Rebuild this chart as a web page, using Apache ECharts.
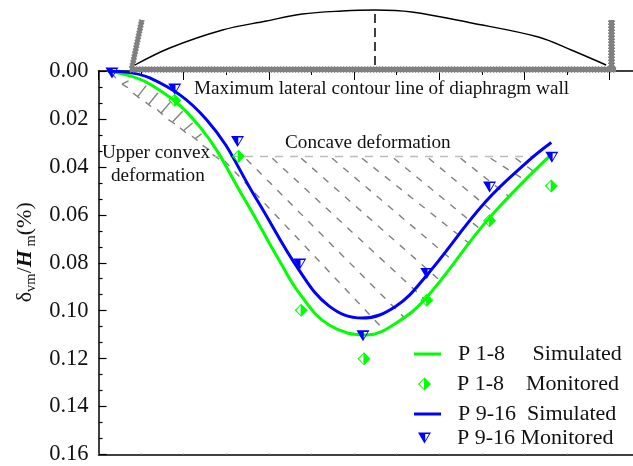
<!DOCTYPE html>
<html>
<head>
<meta charset="utf-8">
<style>html,body{margin:0;padding:0;background:#fff}#c{width:633px;height:466px}</style>
<script src="https://cdn.jsdelivr.net/npm/echarts@6/dist/echarts.min.js"></script>
</head>
<body>
<div id="c"></div>
<script>
const p18SimX = [0.111,0.602,1.187,1.713,2.123,2.357,2.708,3.152,3.491,3.842,4.579,5.316];
const p18SimY = [0,0.0054,0.0232,0.0534,0.0791,0.0927,0.1060,0.1101,0.1052,0.0948,0.0617,0.0348];
const p916SimX = [0.111,0.602,1.269,1.854,2.357,2.708,3.094,3.491,3.842,4.544,5.070,5.316];
const p916SimY = [0,0.0029,0.0203,0.0534,0.0832,0.0981,0.1031,0.0981,0.0857,0.0546,0.0368,0.0298];
const p18MonX = [0.895,1.643,2.380,3.117,3.854,4.591,5.316];
const p18MonY = [0.0122,0.0356,0.0998,0.1201,0.0956,0.0625,0.0480];
const p916MonX = [0.158,0.895,1.632,2.363,3.105,3.854,4.591,5.322];
const p916MonY = [0.0008,0.0075,0.0294,0.0805,0.1105,0.0845,0.0484,0.0360];
const yTickLabels = ['0.00','0.02','0.04','0.06','0.08','0.10','0.12','0.14','0.16'];

const concaveLevel = [[1.368,0.0356],[5.111,0.0356]];
const concaveHatch = [
 [1.480,0.0375,3.351,0.1080],[1.737,0.0368,3.585,0.1027],[2.041,0.0364,3.854,0.0960],
 [2.380,0.0364,4.006,0.0873],[2.743,0.0364,4.193,0.0801],[3.094,0.0364,4.368,0.0724],
 [3.468,0.0364,4.520,0.0671],[3.877,0.0364,4.661,0.0596],[4.251,0.0364,4.813,0.0522],
 [4.602,0.0364,4.988,0.0451],[4.895,0.0364,5.105,0.0418]];
const convexDashes = [
 [0.146,0.0008,0.205,0.0029],[0.275,0.0055,0.345,0.0069],[0.404,0.0092,0.482,0.0113],
 [0.552,0.0130,0.618,0.0148],[0.688,0.0161,0.754,0.0182],[0.821,0.0203,0.898,0.0221],
 [0.957,0.0237,1.027,0.0258],[1.097,0.0272,1.164,0.0290],[1.222,0.0310,1.292,0.0327],
 [1.339,0.0348,1.418,0.0368]];
const convexTicks = [
 [0.275,0.0055,0.353,0.0041],[0.462,0.0106,0.559,0.0061],[0.591,0.0138,0.696,0.0092],
 [0.735,0.0175,0.844,0.0130],[0.871,0.0212,0.988,0.0168],[1.000,0.0248,1.105,0.0217],
 [1.137,0.0282,1.211,0.0262]];

const contourX = [0.427,0.836,1.456,1.971,2.392,2.860,3.246,3.678,4.380,5.164,5.550,5.959];
const contourH = [6,23,41,50,57,60,61,59,48,34,21,6];
const wallLeft = [[0.392,3],[0.509,51]];
const wallBase = [[0.368,1.5],[6.076,1.5]];
const wallRight = [[6.023,1],[6.023,51]];
const centreLine = [[3.246,6],[3.246,61]];

const GREEN = '#00FF00', BLUE = '#0000FF', GREY = '#808080', SERIF = 'Liberation Serif';
const DIAMOND = 'path://M0 -10L10 0L0 10L-10 0ZM-1 -7.4L-7.4 0L-1 7.4Z';
const TRIANGLE = 'path://M-10 -8L10 -8L0 9ZM1.2 -5.6L1.2 4.3L7 -5.6Z';

const zip = (a, b) => a.map((v, i) => [v, b[i]]);
const segs = rows => rows.map(r => ({coords: [[r[0], r[1]], [r[2], r[3]]]}));
const hatch = (data, color, type, name) => ({
  type: 'lines', coordinateSystem: 'cartesian2d', xAxisIndex: 0, yAxisIndex: 0, name, z: 2, silent: true,
  lineStyle: {color, width: 1.4, type, opacity: 1}, data: segs(data), polyline: false, symbol: 'none', effect: {show: false}
});
const schematic = (data, name, style, extra) => Object.assign({
  type: 'line', name, xAxisIndex: 2, yAxisIndex: 1, data, symbol: 'none', silent: true, z: 3, clip: false, lineStyle: style
}, extra || {});
const legendRow = (name, icon, left, top, w, h, pad) => ({
  data: [{name, icon}], left, top, padding: 0, itemWidth: w, itemHeight: h, selectedMode: false,
  textStyle: {fontFamily: SERIF, fontSize: 22, color: '#111', padding: [0, 0, 0, pad]}
});
const note = (text, x, y) => ({type: 'text', x, y, z: 50, silent: true,
  style: {text, fontFamily: SERIF, fontSize: 19.2, fill: '#111', textAlign: 'left', textVerticalAlign: 'middle'}});

const chart = echarts.init(document.getElementById('c'), null, {renderer: 'canvas'});
chart.setOption({
  animation: false,
  backgroundColor: '#fff',
  grid: [
    {left: 98.5, right: -2, top: 71, bottom: 8.5},
    {left: 98.5, right: -2, top: 0, height: 71}
  ],
  xAxis: [
    {type: 'value', gridIndex: 0, position: 'top', min: 0, max: 6.275, interval: 1, splitLine: {show: false},
     axisLabel: {show: false}, axisLine: {onZero: false, lineStyle: {color: '#000', width: 1.5}},
     axisTick: {inside: true, length: 9, lineStyle: {color: '#000', width: 1}},
     minorTick: {show: true, splitNumber: 2, length: 4, lineStyle: {color: '#000', width: 1}}},
    {type: 'value', gridIndex: 0, position: 'bottom', min: 0, max: 6.275, interval: 1, splitLine: {show: false},
     axisLabel: {show: false}, axisLine: {onZero: false, lineStyle: {color: '#000', width: 1.5}},
     axisTick: {inside: true, length: 1, lineStyle: {color: '#999', width: 1}},
     minorTick: {show: true, splitNumber: 2, length: 1, lineStyle: {color: '#999', width: 1}}},
    {type: 'value', gridIndex: 1, min: 0, max: 6.275, show: false}
  ],
  yAxis: [
    {type: 'value', gridIndex: 0, inverse: true, min: 0, max: 0.16, interval: 0.02, splitLine: {show: false},
     axisLine: {onZero: false, lineStyle: {color: '#000', width: 1.5}},
     axisTick: {inside: true, length: 8, lineStyle: {color: '#000', width: 1.2}},
     minorTick: {show: true, splitNumber: 3, length: 4, lineStyle: {color: '#000', width: 1.2}},
     axisLabel: {margin: 10, fontFamily: SERIF, fontSize: 22.5, color: '#111', formatter: (v) => yTickLabels[Math.round(v / 0.02)]},
     name: '{t|δ}{s|vm}{t|/}{h|H}{s| m}{t|(%)}', nameLocation: 'middle', nameRotate: 90, nameGap: 60,
     nameTextStyle: {padding: [0, 0, 0, 21], rich: {
       t: {fontFamily: SERIF, fontSize: 22, color: '#111', lineHeight: 26},
       h: {fontFamily: SERIF, fontSize: 22, fontStyle: 'italic', fontWeight: 'bold', color: '#111', lineHeight: 26},
       s: {fontFamily: SERIF, fontSize: 14.5, color: '#111', lineHeight: 26, verticalAlign: 'bottom'}
     }}},
    {type: 'value', gridIndex: 1, min: 0, max: 71, show: false}
  ],
  legend: [
    legendRow('P 1-8     Simulated', 'rect', 414, 343, 27, 3, 12),
    legendRow('P 1-8    Monitored', DIAMOND, 418, 373, 13, 13, 21),
    legendRow('P 9-16  Simulated', 'rect', 414, 403, 27, 3, 12),
    legendRow('P 9-16 Monitored', TRIANGLE, 418, 427, 13, 11, 21)
  ],
  graphic: [
    note('Maximum lateral contour line of diaphragm wall', 194, 89),
    note('Concave deformation', 285, 143),
    note('Upper convex', 102, 153),
    note('deformation', 111, 176)
  ],
  series: [
    hatch(concaveHatch, GREY, [7, 7.6], 'concave hatch'),
    hatch(convexDashes, GREY, 'solid', 'convex boundary'),
    hatch(convexTicks, GREY, 'solid', 'convex ticks'),
    hatch([[concaveLevel[0][0], concaveLevel[0][1], concaveLevel[1][0], concaveLevel[1][1]]], '#BDBDBD', [8, 7], 'concave level'),
    schematic(wallBase, 'wall base', {color: GREY, width: 6.5, type: [1.5, 1.5]}, {z: 20}),
    schematic(wallBase, 'wall base core', {color: GREY, width: 5}, {z: 20}),
    schematic(wallLeft, 'left wall', {color: GREY, width: 6, type: [1.5, 1.5]}, {z: 20}),
    schematic(wallLeft, 'left wall core', {color: GREY, width: 4.5}, {z: 20}),
    schematic(wallRight, 'right wall', {color: GREY, width: 7, type: [1.5, 1.5]}, {z: 20}),
    schematic(wallRight, 'right wall core', {color: GREY, width: 5}, {z: 20}),
    schematic(zip(contourX, contourH), 'contour', {color: '#000', width: 1.4}, {smooth: 0.35, z: 21}),
    schematic(centreLine, 'centre', {color: '#000', width: 1.5, type: [9, 5]}, {z: 21}),
    {type: 'line', name: 'P 1-8     Simulated', xAxisIndex: 0, yAxisIndex: 0, data: zip(p18SimX, p18SimY), smooth: 0.4, symbol: 'none', z: 5,
     lineStyle: {color: GREEN, width: 3}, itemStyle: {color: GREEN}},
    {type: 'line', name: 'P 9-16  Simulated', xAxisIndex: 0, yAxisIndex: 0, data: zip(p916SimX, p916SimY), smooth: 0.4, symbol: 'none', z: 6,
     lineStyle: {color: BLUE, width: 3}, itemStyle: {color: BLUE}},
    {type: 'scatter', name: 'P 1-8    Monitored', xAxisIndex: 0, yAxisIndex: 0, data: zip(p18MonX, p18MonY), symbol: DIAMOND, symbolSize: [13, 13], z: 7,
     itemStyle: {color: GREEN, opacity: 1}},
    {type: 'scatter', name: 'P 9-16 Monitored', xAxisIndex: 0, yAxisIndex: 0, data: zip(p916MonX, p916MonY), symbol: TRIANGLE, symbolSize: [13, 11], z: 8,
     itemStyle: {color: BLUE, opacity: 1}}
  ]
});
</script>
</body>
</html>
